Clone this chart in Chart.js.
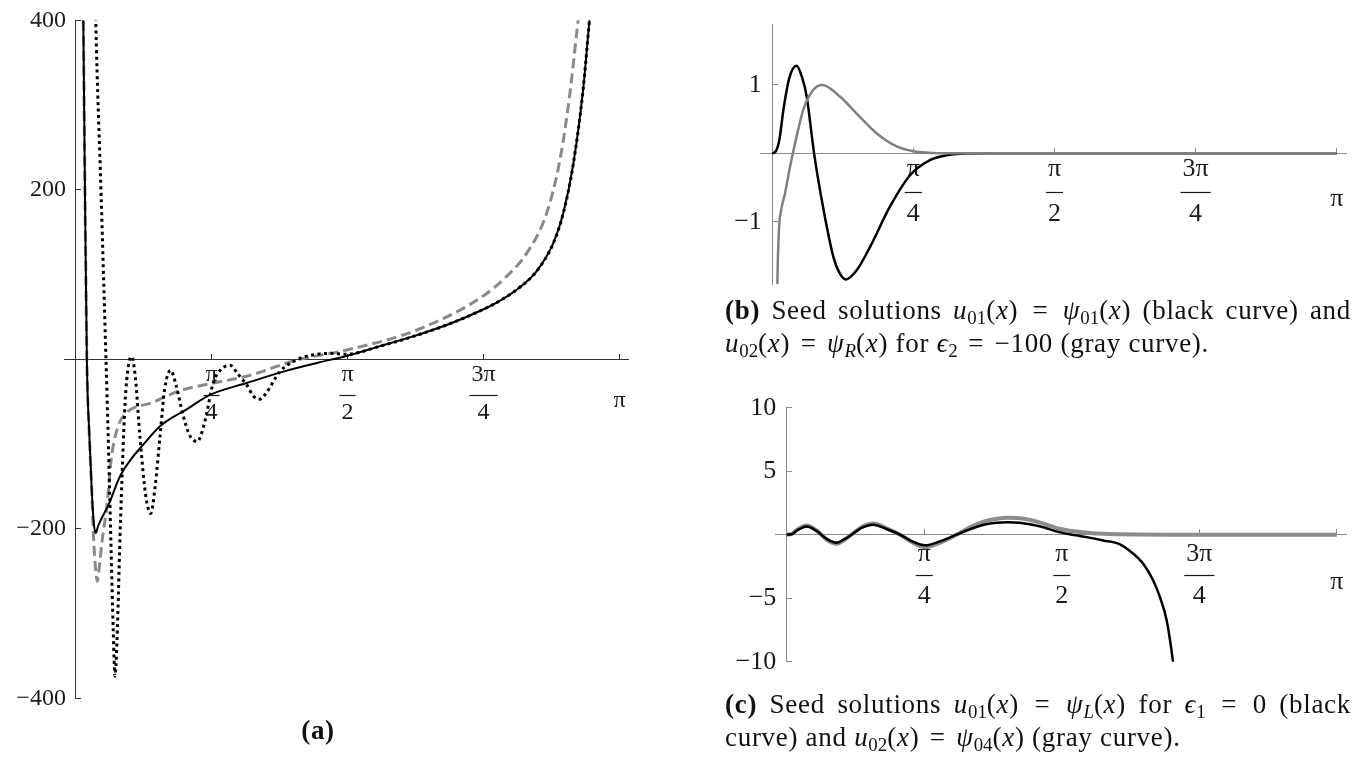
<!DOCTYPE html>
<html>
<head>
<meta charset="utf-8">
<script src="https://cdn.jsdelivr.net/npm/chart.js@4.4.0/dist/chart.umd.min.js"></script>
<style>
body { margin:0; width:1355px; height:757px; position:relative; background:#fff; overflow:hidden; }
canvas { position:absolute; }
.cap { position:absolute; font-family:"Liberation Serif","DejaVu Serif",serif; font-size:27px; line-height:33px; color:#111; letter-spacing:0.7px; }
.cap div { white-space:nowrap; }
.cap sub { font-size:0.7em; vertical-align:-0.25em; line-height:0; letter-spacing:0; }
.cap .rel { margin:0 3px; }
.just { text-align:justify; text-align-last:justify; }
</style>
</head>
<body>
<canvas id="chartA" width="680" height="720" style="left:0;top:0"></canvas>
<canvas id="chartB" width="675" height="300" style="left:680px;top:0"></canvas>
<canvas id="chartC" width="675" height="310" style="left:680px;top:380px"></canvas>

<div class="cap" style="left:0;top:714px;width:636px;text-align:center"><b>(a)</b></div>
<div class="cap" style="left:725px;top:294px;width:626px">
  <div class="just"><b>(b)</b> Seed solutions <i>u</i><sub>01</sub>(<i>x</i>) <span class="rel">=</span> <i>ψ</i><sub>01</sub>(<i>x</i>) (black curve) and</div>
  <div><i>u</i><sub>02</sub>(<i>x</i>) <span class="rel">=</span> <i>ψ</i><sub><i>R</i></sub>(<i>x</i>) for <i>ϵ</i><sub>2</sub> <span class="rel">=</span> −100 (gray curve).</div>
</div>
<div class="cap" style="left:725px;top:688px;width:626px">
  <div class="just"><b>(c)</b> Seed solutions <i>u</i><sub>01</sub>(<i>x</i>) <span class="rel">=</span> <i>ψ</i><sub><i>L</i></sub>(<i>x</i>) for <i>ϵ</i><sub>1</sub> <span class="rel">=</span> 0 (black</div>
  <div>curve) and <i>u</i><sub>02</sub>(<i>x</i>) <span class="rel">=</span> <i>ψ</i><sub>04</sub>(<i>x</i>) (gray curve).</div>
</div>

<script>
// x ticks, same for all three panels
const xTickValues = [Math.PI / 4, Math.PI / 2, 3 * Math.PI / 4, Math.PI];
const xTickLabels = [['π', '4'], ['π', '2'], ['3π', '4'], ['π']];

// panel (a)
const aYTicks = [-400, -200, 200, 400];
const aSolidX = [0.040, 0.045, 0.055, 0.066, 0.080, 0.095, 0.107, 0.117, 0.130, 0.160, 0.190, 0.257, 0.320, 0.390, 0.488, 0.642, 0.777, 0.988, 1.200, 1.400, 1.566, 1.750, 1.950, 2.150, 2.335, 2.450, 2.566, 2.663, 2.759, 2.816, 2.874, 2.932, 2.961, 2.990];
const aSolidY = [470, 400, 190, -5, -90, -160, -196, -205, -197, -184, -172, -138, -118, -101, -79, -59, -42, -28, -14.5, -4, 4, 15, 27, 41, 57, 69, 85, 104, 137, 172, 230, 320, 385, 450];
const aDashX = [0.040, 0.045, 0.055, 0.066, 0.080, 0.095, 0.103, 0.115, 0.126, 0.140, 0.155, 0.180, 0.210, 0.250, 0.300, 0.340, 0.430, 0.603, 0.796, 0.988, 1.277, 1.566, 1.950, 2.335, 2.490, 2.605, 2.720, 2.797, 2.855, 2.894, 2.930];
const aDashY = [470, 400, 190, -5, -90, -160, -205, -245, -262, -240, -212, -175, -112, -77, -62, -57, -52, -37, -28, -20, -1, 11, 33, 72, 98, 125, 172, 235, 314, 385, 450];
const aDotX = [0.110, 0.117, 0.147, 0.176, 0.190, 0.205, 0.218, 0.228, 0.240, 0.257, 0.272, 0.286, 0.305, 0.324, 0.345, 0.372, 0.405, 0.434, 0.460, 0.488, 0.515, 0.550, 0.580, 0.620, 0.660, 0.703, 0.745, 0.795, 0.840, 0.892, 0.940, 0.988, 1.030, 1.065, 1.100, 1.180, 1.240, 1.315, 1.410, 1.470, 1.566, 1.750, 1.950, 2.150, 2.335, 2.450, 2.566, 2.663, 2.759, 2.816, 2.874, 2.932, 2.961, 2.990];
const aDotY = [480, 400, 200, 0, -100, -220, -320, -374, -330, -209, -120, -52, -8, 3, -20, -91, -160, -182, -150, -91, -35, -13, -30, -65, -90, -97, -75, -28, -12, -7, -18, -30, -44, -47, -40, -14.5, -4.6, 2.5, 6.4, 7, 6, 15, 27, 41, 57, 69, 85, 104, 137, 172, 230, 320, 385, 450];

// panel (b)
const bYTicks = [-1, 1];
const bBlackX = [0, 0.020, 0.040, 0.062, 0.095, 0.136, 0.165, 0.192, 0.233, 0.284, 0.340, 0.377, 0.410, 0.470, 0.544, 0.655, 0.767, 0.878, 0.970, 1.050, 1.200, 2.000, 3.1416];
const bBlackY = [0, 0.03, 0.2, 0.63, 1.1, 1.28, 1.12, 0.83, 0, -0.8, -1.51, -1.76, -1.845, -1.71, -1.37, -0.78, -0.32, -0.1, -0.03, -0.005, 0, 0, 0];
const bGrayX = [0.025, 0.029, 0.038, 0.047, 0.071, 0.099, 0.132, 0.173, 0.229, 0.279, 0.377, 0.470, 0.582, 0.693, 0.785, 0.900, 1.050, 2.000, 3.1416];
const bGrayY = [-2.8, -1.87, -1.1, -0.87, -0.59, -0.2, 0.2, 0.64, 0.93, 1.0, 0.83, 0.58, 0.29, 0.10, 0.03, 0.005, 0, 0, 0];

// panel (c)
const cYTicks = [-10, -5, 5, 10];
const cBlackX = [0, 0.030, 0.060, 0.114, 0.170, 0.230, 0.285, 0.330, 0.370, 0.430, 0.494, 0.570, 0.647, 0.720, 0.790, 0.880, 0.970, 1.050, 1.130, 1.200, 1.260, 1.330, 1.450, 1.556, 1.650, 1.713, 1.807, 1.903, 1.979, 2.036, 2.093, 2.131, 2.170, 2.207, 2.230];
const cBlackY = [0, 0.05, 0.35, 0.65, 0.3, -0.35, -0.63, -0.35, 0, 0.55, 0.79, 0.45, 0, -0.55, -0.84, -0.5, 0, 0.45, 0.8, 0.95, 0.99, 0.95, 0.65, 0.2, -0.05, -0.19, -0.45, -0.76, -1.5, -2.28, -3.6, -4.9, -6.75, -10.1, -13];
const cGrayX = [0, 0.030, 0.060, 0.114, 0.170, 0.230, 0.285, 0.330, 0.370, 0.430, 0.494, 0.570, 0.647, 0.720, 0.790, 0.880, 0.970, 1.050, 1.130, 1.200, 1.260, 1.332, 1.450, 1.556, 1.650, 1.713, 1.807, 1.903, 2.000, 2.200, 3.1416];
const cGrayY = [0, 0.06, 0.4, 0.72, 0.33, -0.4, -0.72, -0.4, 0, 0.62, 0.88, 0.5, 0, -0.62, -0.98, -0.6, 0, 0.6, 1.05, 1.25, 1.33, 1.3, 0.95, 0.47, 0.25, 0.16, 0.07, 0.03, 0.01, 0, 0];

const serif = '"Liberation Serif", "DejaVu Serif", serif';

function pts(xs, ys) {
    return xs.map((x, i) => ({x: x, y: ys[i]}));
}

function yLabel(v) {
    return (v < 0 ? '\u2212' + Math.abs(v) : '' + v) + '\u2009\u2009';
}

// draws the bar of the pi/4 style fractions under the numerator
const fracBars = {
    id: 'fracBars',
    afterDraw(chart, args, o) {
        var xs = chart.scales.x, ys = chart.scales.y;
        var c = chart.ctx;
        var y = Math.round(ys.getPixelForValue(0) + o.top) + 0.5;
        c.save();
        c.font = o.size + 'px ' + serif;
        c.strokeStyle = o.color;
        c.lineWidth = 1.2;
        xs.ticks.forEach(function(t) {
            if (!Array.isArray(t.label) || t.label.length < 2) return;
            var w = Math.max.apply(null, t.label.map(s => c.measureText(s).width)) + 4;
            var px = xs.getPixelForValue(t.value);
            c.beginPath();
            c.moveTo(px - w / 2, y);
            c.lineTo(px + w / 2, y);
            c.stroke();
        });
        c.restore();
    }
};

function makeChart(id, datasets, p) {
    var tl = -6;
    return new Chart(document.getElementById(id), {
        type: 'line',
        data: {datasets: datasets},
        plugins: [fracBars],
        options: {
            responsive: false,
            animation: false,
            devicePixelRatio: 1,
            layout: {padding: p.pad},
            elements: {point: {radius: 0}, line: {cubicInterpolationMode: 'monotone', borderCapStyle: 'butt'}},
            plugins: {
                legend: {display: false},
                tooltip: {enabled: false},
                fracBars: {top: tl + p.labPad + p.lh + p.barAdj, size: p.size, color: '#1a1a1a'}
            },
            scales: {
                x: {
                    type: 'linear',
                    position: {y: 0},
                    min: p.xmin, max: p.xmax,
                    afterBuildTicks: s => { s.ticks = xTickValues.map(v => ({value: v})); },
                    border: {display: true, color: p.axis, width: 1},
                    grid: {drawOnChartArea: false, drawTicks: true, tickLength: tl, tickColor: p.axis},
                    ticks: {
                        autoSkip: false, maxRotation: 0, minRotation: 0,
                        padding: p.labPad,
                        color: '#1a1a1a',
                        font: ctx => ({family: serif, size: p.size,
                            lineHeight: (ctx.tick && ctx.tick.value > 3) ? p.endLh + 'px' : p.lh + 'px'}),
                        callback: (v, i) => xTickLabels[i]
                    }
                },
                y: {
                    type: 'linear',
                    position: {x: 0},
                    min: p.ymin, max: p.ymax,
                    afterBuildTicks: s => { s.ticks = p.yTicks.map(v => ({value: v})); },
                    border: {display: true, color: p.axis, width: 1},
                    grid: {drawOnChartArea: false, drawTicks: true, tickLength: tl, tickColor: p.axis},
                    ticks: {
                        padding: 0,
                        color: '#1a1a1a',
                        font: {family: serif, size: p.size},
                        callback: v => yLabel(v)
                    }
                }
            }
        }
    });
}

makeChart('chartA', [
    {data: pts(aDotX, aDotY), borderColor: '#000', borderWidth: 3, borderDash: [3, 3.5], order: 0},
    {data: pts(aSolidX, aSolidY), borderColor: '#000', borderWidth: 2, order: 1},
    {data: pts(aDashX, aDashY), borderColor: '#8a8a8a', borderWidth: 3, borderDash: [10, 5], order: 2}
], {
    pad: {left: 64, top: 20.3, right: 51.7, bottom: 21.7},
    xmin: -0.0664, xmax: 3.192, ymin: -400, ymax: 400, yTicks: aYTicks,
    axis: '#333', size: 24, lh: 38, endLh: 90, labPad: 2, barAdj: 1.5
});

makeChart('chartB', [
    {data: pts(bGrayX, bGrayY), borderColor: '#808080', borderWidth: 2.5, order: 0},
    {data: pts(bBlackX, bBlackY), borderColor: '#000', borderWidth: 2.5, order: 1}
], {
    pad: {left: 80.7, top: 24, right: 8.3, bottom: 16},
    xmin: -0.064, xmax: 3.197, ymin: -1.91, ymax: 1.89, yTicks: bYTicks,
    axis: '#8a8a8a', size: 26, lh: 44.5, endLh: 104, labPad: 0, barAdj: 0
});

makeChart('chartC', [
    {data: pts(cBlackX, cBlackY), borderColor: '#000', borderWidth: 2.5, order: 0},
    {data: pts(cGrayX, cGrayY), borderColor: '#8c8c8c', borderWidth: 4, order: 1}
], {
    pad: {left: 95, top: 27.7, right: 8.3, bottom: 28.3},
    xmin: -0.067, xmax: 3.198, ymin: -10, ymax: 10, yTicks: cYTicks,
    axis: '#8a8a8a', size: 26, lh: 42.5, endLh: 99, labPad: 4, barAdj: 0
});
</script>
</body>
</html>
